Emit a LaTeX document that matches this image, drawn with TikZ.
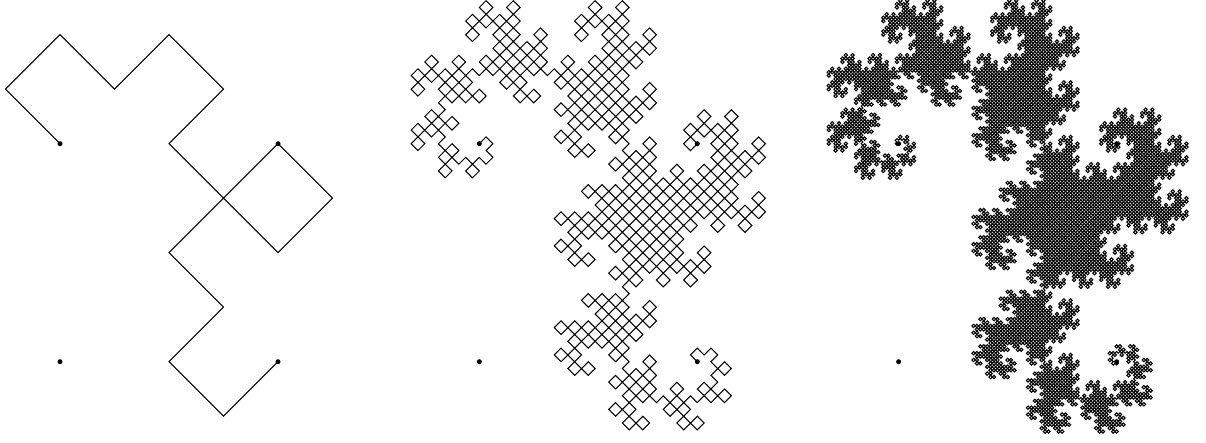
\documentclass[tikz,border=0pt]{standalone}
\newcount\dk \newcount\dt \newcount\dq \newcount\dtotal
\newcount\ddx \newcount\ddy
\newdimen\dpx \newdimen\dpy \newdimen\dstep
\def\oddpart{\ifodd\dt\else\divide\dt 2 \expandafter\oddpart\fi}
\def\dragonstep{%
  \advance\dk 1
  \advance\dpx by \ddx\dstep
  \advance\dpy by \ddy\dstep
  \pgfpathlineto{\pgfqpoint{\dpx}{\dpy}}%
  \dq=\dk \divide\dq 256 \multiply\dq 256
  \ifnum\dq=\dk
    \pgfusepath{stroke}%
    \pgfpathmoveto{\pgfqpoint{\dpx}{\dpy}}%
  \fi
  \dt=\dk \oddpart
  \dq=\dt \divide\dq 4 \multiply\dq 4
  \advance\dt -\dq
  \dq=\ddx
  \ifnum\dt=1 \ddx=\ddy \ddy=-\dq \else \ddx=-\ddy \ddy=\dq \fi
  \ifnum\dk<\dtotal \expandafter\dragonstep\fi}
\makeatletter
% #1 segments, #2 grid step (pt), #3 node the curve starts from, #4 #5 first direction
\def\drawdragon#1#2#3#4#5{%
  \dtotal=#1 \dstep=#2pt \dk=0 \ddx=#4 \ddy=#5
  \pgfpointanchor{#3}{center}\dpx=\pgf@x \dpy=\pgf@y
  \pgfpathmoveto{\pgfqpoint{\dpx}{\dpy}}%
  \dragonstep
  \pgfusepath{stroke}}
\makeatother
\tikzset{
  enddot/.style={circle,fill=black,draw=none,inner sep=0pt,minimum size=5pt},
  dragonline/.style={line width=1.05pt,line cap=round,line join=miter}
}
\begin{document}
\begin{tikzpicture}[x=1pt,y=1pt]
\useasboundingbox (0,0) rectangle (1206,442);
\fill[white] (0,0) rectangle (1206,442);
\foreach \nm/\x in {a/60,b/479.3,c/898.6}{
  \pgfmathsetmacro{\xr}{\x+218}
  \node[enddot] (\nm1) at (\x,298.3) {};
  \node[enddot] (\nm2) at (\xr,298.3) {};
  \node[enddot] (\nm3) at (\x,80.3) {};
  \node[enddot] (\nm4) at (\xr,80.3) {};
}
\begin{scope}[dragonline]
\drawdragon{16}{54.5}{a1}{-1}{1}
\drawdragon{1024}{6.8125}{b1}{1}{1}
\drawdragon{16384}{1.703125}{c1}{-1}{-1}
\end{scope}
\end{tikzpicture}
\end{document}
